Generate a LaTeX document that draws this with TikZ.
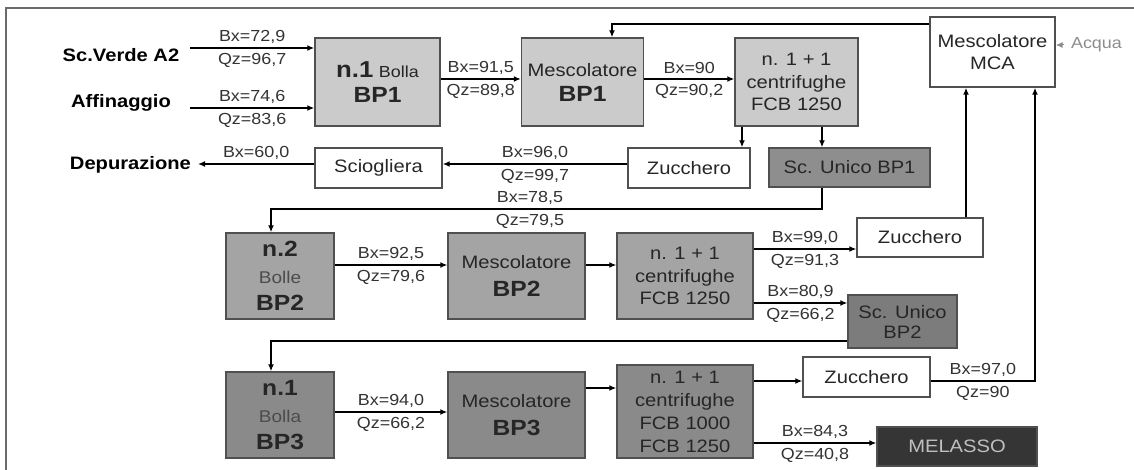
\documentclass[tikz,border=0pt]{standalone}
\usepackage{fontspec}
\setmainfont[FakeStretch=1.12]{Liberation Sans}
\usepackage{xcolor}
\usepackage{tikz}
\usetikzlibrary{arrows.meta,positioning}
\definecolor{grigiochiaro}{HTML}{CBCBCB}
\definecolor{grigiomedio}{HTML}{A4A4A4}
\definecolor{grigioscuro}{HTML}{8A8A8A}
\definecolor{unicouno}{HTML}{8E8E8E}
\definecolor{unicodue}{HTML}{7C7C7C}
\definecolor{melassofill}{HTML}{353535}
\definecolor{bordo}{HTML}{505050}
\definecolor{cornice}{HTML}{6A6A6A}

\begin{document}
\begin{tikzpicture}[x=0.5pt,y=-0.5pt,
    every node/.style={font=\fontsize{9}{12.5}\selectfont},
    box/.style={draw=bordo,line width=0.7pt,align=center,inner sep=1pt,text=black!85},
    flow/.style={-{Latex[length=3.5pt,width=3pt]},line width=0.9pt},
    lab/.style={font=\fontsize{8}{9}\selectfont,inner sep=2pt,text=black!80},
    src/.style={font=\fontsize{9}{11}\selectfont\bfseries}]
    \useasboundingbox (0,0) rectangle (1134,470);
    \draw[cornice,line width=0.8pt] (6,470) -- (6,8) -- (1140,8);
    % sorgenti e uscite
    \node[src] (scverde) at (121,55) {Sc.Verde A2};
    \node[src] (affin) at (121,103) {Affinaggio};
    \node[src,anchor=east] (depur) at (198,165) {Depurazione};
    % riga BP1
    \node[box,fill=grigiochiaro,minimum width=62.5pt,minimum height=44pt] (bolla1) at (377.5,82) {{\fontsize{11.5}{13}\selectfont\bfseries n.1} {\fontsize{8}{9}\selectfont Bolla}\\{\fontsize{11}{13}\selectfont\bfseries BP1}};
    \node[box,fill=grigiochiaro,minimum width=61pt,minimum height=44pt] (mesc1) at (582.5,82) {Mescolatore\\{\fontsize{11}{13}\selectfont\bfseries BP1}};
    \node[box,fill=grigiochiaro,minimum width=61.5pt,minimum height=44pt,font=\fontsize{9}{11.3}\selectfont] (centr1) at (796.5,82) {n. 1 + 1\\centrifughe\\FCB 1250};
    \node[box,minimum width=62.5pt,minimum height=35pt,font=\fontsize{9}{11}\selectfont] (mca) at (992.5,52) {Mescolatore\\MCA};
    \node[font=\fontsize{8}{9}\selectfont,text=black!45,anchor=west] (acqua) at (1064,45) {Acqua};
    \node[box,minimum width=61pt,minimum height=20pt] (zuc1) at (689,168) {Zucchero};
    \node[box,fill=unicouno,minimum width=80.5pt,minimum height=19.5pt] (unico1) at (849.5,167.5) {Sc. Unico BP1};
    \node[box,minimum width=63.5pt,minimum height=20pt] (sciog) at (378.5,168) {Sciogliera};
    % riga BP2
    \node[box,fill=grigiomedio,minimum width=54pt,minimum height=43pt,font=\fontsize{9}{13.5}\selectfont] (bolle2) at (280,276) {{\fontsize{11}{13}\selectfont\bfseries n.2}\\{\fontsize{8.5}{9}\selectfont\color{black!70}Bolle}\\{\fontsize{11}{13}\selectfont\bfseries BP2}};
    \node[box,fill=grigiomedio,minimum width=68.5pt,minimum height=43pt,font=\fontsize{9}{14}\selectfont] (mesc2) at (516.5,276) {Mescolatore\\{\fontsize{11}{13}\selectfont\bfseries BP2}};
    \node[box,fill=grigiomedio,minimum width=68pt,minimum height=43pt,font=\fontsize{9}{11.3}\selectfont] (centr2) at (685,276) {n. 1 + 1\\centrifughe\\FCB 1250};
    \node[box,minimum width=63pt,minimum height=19.5pt] (zuc2) at (920,237.5) {Zucchero};
    \node[box,fill=unicodue,minimum width=54.5pt,minimum height=26.5pt,font=\fontsize{9}{10}\selectfont] (unico2) at (902.5,321.5) {Sc. Unico\\BP2};
    % riga BP3
    \node[box,fill=grigioscuro,minimum width=54pt,minimum height=43pt,font=\fontsize{9}{13.5}\selectfont] (bolla3) at (280,415) {{\fontsize{11}{13}\selectfont\bfseries n.1}\\{\fontsize{8.5}{9}\selectfont\color{black!70}Bolla}\\{\fontsize{11}{13}\selectfont\bfseries BP3}};
    \node[box,fill=grigioscuro,minimum width=68.5pt,minimum height=43pt,font=\fontsize{9}{14}\selectfont] (mesc3) at (516.5,415) {Mescolatore\\{\fontsize{11}{13}\selectfont\bfseries BP3}};
    \node[box,fill=grigioscuro,minimum width=68pt,minimum height=46.5pt,font=\fontsize{9}{11.5}\selectfont] (centr3) at (685,411.5) {n. 1 + 1\\centrifughe\\FCB 1000\\FCB 1250};
    \node[box,minimum width=63.5pt,minimum height=20pt] (zuc3) at (866.5,377) {Zucchero};
    \node[box,fill=melassofill,text=black!25,minimum width=80pt,minimum height=19.5pt] (melasso) at (957,446.5) {MELASSO};
    % punti di passaggio
    \coordinate (in1) at (190,48);
    \coordinate (in2) at (190,108);
    \coordinate (r1) at (0,79);
    \coordinate (r1b) at (0,164);
    \coordinate (top) at (612,24);
    \coordinate (c1a) at (742,0);
    \coordinate (c1b) at (822,0);
    \coordinate (ret1) at (271,209);
    \coordinate (r2a) at (0,265);
    \coordinate (r2b) at (0,249);
    \coordinate (r2c) at (0,303);
    \coordinate (c2a) at (966,0);
    \coordinate (c2b) at (1035,0);
    \coordinate (ret2) at (271,341);
    \coordinate (r3a) at (0,412);
    \coordinate (r3b) at (0,388);
    \coordinate (r3c) at (0,381);
    \coordinate (r3d) at (0,443);
    % flussi
    \draw[flow] (in1) -- node[lab,above]{Bx=72,9} node[lab,below]{Qz=96,7} (in1 -| bolla1.west);
    \draw[flow] (in2) -- node[lab,above]{Bx=74,6} node[lab,below]{Qz=83,6} (in2 -| bolla1.west);
    \draw[flow] (bolla1.east |- r1) -- node[lab,above]{Bx=91,5} node[lab,below]{Qz=89,8} (mesc1.west |- r1);
    \draw[flow] (mesc1.east |- r1) -- node[lab,above]{Bx=90} node[lab,below]{Qz=90,2} (centr1.west |- r1);
    \draw[flow] (mca.west |- top) -- (top) -- (mesc1.north -| top);
    \draw[flow,black!45,line width=0.5pt] (acqua.west) -- (acqua.west -| mca.east);
    \draw[flow] (centr1.south -| c1a) -- (zuc1.north -| c1a);
    \draw[flow] (centr1.south -| c1b) -- (unico1.north -| c1b);
    \draw[flow] (zuc1.west |- r1b) -- node[lab,above]{Bx=96,0} node[lab,below]{Qz=99,7} (sciog.east |- r1b);
    \draw[flow] (sciog.west |- r1b) -- node[lab,above]{Bx=60,0} (depur.east |- r1b);
    \draw[flow] (unico1.south -| c1b) -- (c1b |- ret1) -- node[lab,above,pos=0.53]{Bx=78,5} node[lab,below,pos=0.53]{Qz=79,5} (ret1) -- (bolle2.north -| ret1);
    \draw[flow] (bolle2.east |- r2a) -- node[lab,above]{Bx=92,5} node[lab,below]{Qz=79,6} (mesc2.west |- r2a);
    \draw[flow] (mesc2.east |- r2a) -- (centr2.west |- r2a);
    \draw[flow] (centr2.east |- r2b) -- node[lab,above]{Bx=99,0} node[lab,below]{Qz=91,3} (zuc2.west |- r2b);
    \draw[flow] (centr2.east |- r2c) -- node[lab,above]{Bx=80,9} node[lab,below]{Qz=66,2} (unico2.west |- r2c);
    \draw[flow] (zuc2.north -| c2a) -- (mca.south -| c2a);
    \draw[flow] (unico2.west |- ret2) -- (ret2) -- (bolla3.north -| ret2);
    \draw[flow] (bolla3.east |- r3a) -- node[lab,above]{Bx=94,0} node[lab,below]{Qz=66,2} (mesc3.west |- r3a);
    \draw[flow] (mesc3.east |- r3b) -- (centr3.west |- r3b);
    \draw[flow] (centr3.east |- r3c) -- (zuc3.west |- r3c);
    \draw[flow] (zuc3.east |- r3c) -- node[lab,above]{Bx=97,0} node[lab,below]{Qz=90} (c2b |- r3c) -- (mca.south -| c2b);
    \draw[flow] (centr3.east |- r3d) -- node[lab,above]{Bx=84,3} node[lab,below]{Qz=40,8} (melasso.west |- r3d);
\end{tikzpicture}
\end{document}
